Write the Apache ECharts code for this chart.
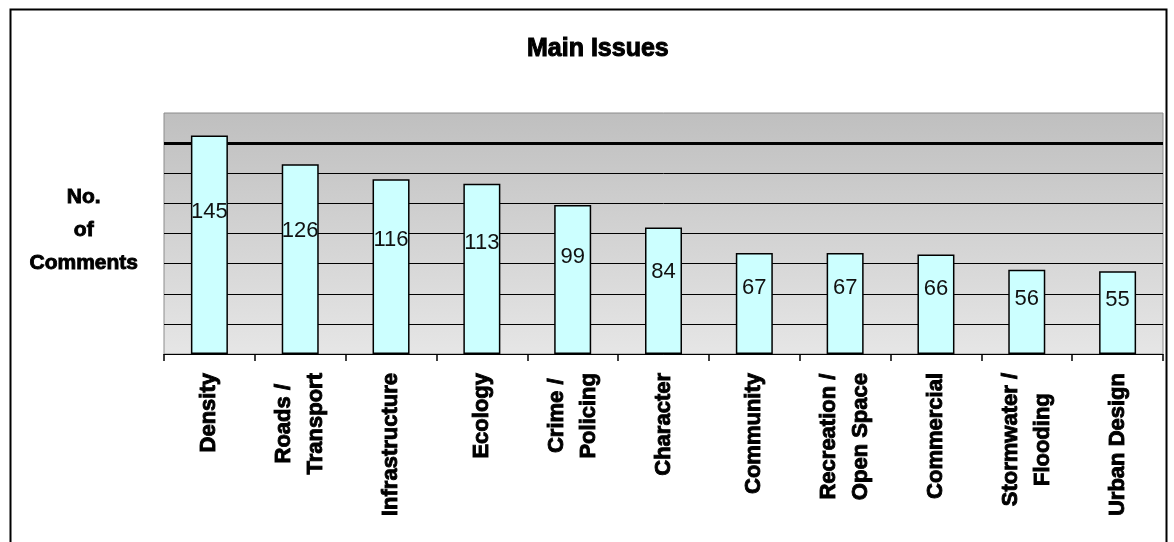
<!DOCTYPE html>
<html>
<head>
<meta charset="utf-8">
<script src="https://cdn.jsdelivr.net/npm/echarts@6/dist/echarts.min.js"></script>
<style>
html,body{margin:0;padding:0;background:#fff;}
#chart{width:1174px;height:542px;}
</style>
</head>
<body>
<div id="chart"></div>
<script>
const categories = ["Density", "Roads /\nTransport", "Infrastructure", "Ecology", "Crime /\nPolicing", "Character", "Community", "Recreation /\nOpen Space", "Commercial", "Stormwater /\nFlooding", "Urban Design"];
const comments = [145, 126, 116, 113, 99, 84, 67, 67, 66, 56, 55];
const yMin = 0, yMax = 160, yInterval = 20;
const referenceLine = 140;
const titleText = "Main Issues";
const yName = "No.\nof\nComments";

const chart = echarts.init(document.getElementById('chart'));
const wrapCenter = s => s.split('\n').map(l => '{c|' + l + '}').join('\n');
const FONT = "'Liberation Sans', Arial, sans-serif";

chart.setOption({
  backgroundColor: '#fff',
  animation: false,
  title: {
    text: titleText,
    left: 522,
    top: 32,
    textStyle: { fontFamily: FONT, fontWeight: 'bold', fontSize: 25, color: '#000', textBorderColor: '#000', textBorderWidth: 1 }
  },
  graphic: [{
    type: 'rect', left: 8, top: 7, silent: true,
    shape: { width: 1156, height: 600 },
    style: { fill: 'none', stroke: '#000', lineWidth: 2 }
  }],
  grid: {
    left: 164, right: 11, top: 113, bottom: 188,
    show: true, borderColor: '#8c8c8c', borderWidth: 1,
    backgroundColor: { type: 'linear', x: 0, y: 0, x2: 0, y2: 1, colorStops: [{ offset: 0, color: '#bfbfbf' }, { offset: 1, color: '#e6e6e6' }] }
  },
  xAxis: {
    type: 'category',
    data: categories,
    boundaryGap: true,
    axisLine: { show: true, lineStyle: { color: '#000', width: 1 } },
    axisTick: { show: true, length: 7, lineStyle: { color: '#000', width: 1.5 } },
    axisLabel: {
      interval: 0, rotate: 90, margin: 19,
      formatter: v => wrapCenter(v),
      rich: { c: { align: 'center', fontFamily: FONT, fontWeight: 'bold', fontSize: 22, lineHeight: 32, color: '#000', textBorderColor: '#000', textBorderWidth: 0.9 } }
    }
  },
  yAxis: {
    type: 'value', min: yMin, max: yMax, interval: yInterval,
    name: wrapCenter(yName),
    nameLocation: 'middle', nameRotate: 0, nameGap: 26,
    nameTextStyle: {
      padding: [0, 0, 6, 0],
      rich: { c: { align: 'center', fontFamily: FONT, fontWeight: 'bold', fontSize: 21, lineHeight: 33, color: '#000', textBorderColor: '#000', textBorderWidth: 0.9 } }
    },
    axisLine: { show: false }, axisTick: { show: false }, axisLabel: { show: false },
    splitLine: { show: true, showMaxLine: false, lineStyle: { color: '#000', width: 1 } }
  },
  series: [{
    type: 'bar',
    data: comments,
    barWidth: 37,
    itemStyle: { color: '#ccffff', borderColor: '#000', borderWidth: 1.5 },
    label: {
      show: true, position: ['50%', '35%'], align: 'center', verticalAlign: 'middle',
      fontFamily: FONT, fontSize: 22, color: '#111'
    },
    markLine: {
      silent: true, symbol: 'none', z: 1,
      label: { show: false },
      lineStyle: { color: '#000', width: 3, type: 'solid' },
      data: [{ yAxis: referenceLine }]
    }
  }]
});
</script>
</body>
</html>
